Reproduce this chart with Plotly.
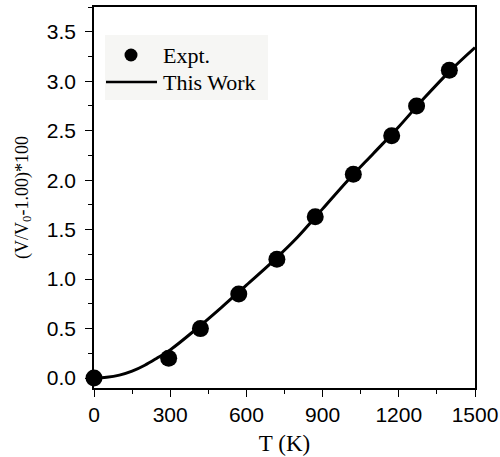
import plotly.graph_objects as go

# Measured thermal expansion
expt_T = [0, 294, 419, 570, 720, 871, 1021, 1172, 1270, 1399]
expt_dV = [0.0, 0.20, 0.50, 0.85, 1.20, 1.63, 2.06, 2.45, 2.75, 3.11]

# Calculated curve
calc_T = [0, 50, 100, 150, 200, 250, 300, 400, 500, 600, 700, 800,
          900, 1000, 1100, 1200, 1300, 1400, 1500]
calc_dV = [0.0, 0.008, 0.03, 0.07, 0.13, 0.205, 0.285, 0.49, 0.71, 0.94,
           1.17, 1.42, 1.71, 2.0, 2.27, 2.54, 2.83, 3.10, 3.34]

x_ticks = [0, 300, 600, 900, 1200, 1500]
y_ticks = [0.0, 0.5, 1.0, 1.5, 2.0, 2.5, 3.0, 3.5]

legend_labels = ["Expt.", "This Work"]

SERIF = "Liberation Serif, Times New Roman, serif"
SANS = "Liberation Sans, Arial, sans-serif"

fig = go.Figure()
fig.add_trace(go.Scatter(
    x=expt_T, y=expt_dV, mode="markers", name=legend_labels[0],
    marker=dict(symbol="circle", size=17, color="black"),
    cliponaxis=False, showlegend=False,
))
fig.add_trace(go.Scatter(
    x=calc_T, y=calc_dV, mode="lines", name=legend_labels[1],
    line=dict(color="black", width=3, shape="spline", smoothing=1.0),
    showlegend=False,
))

axis_common = dict(
    showline=True, linecolor="black", linewidth=1.5, mirror=True,
    ticks="outside", ticklen=7, tickwidth=1.2, tickcolor="black",
    showgrid=False, zeroline=False, automargin=False,
    tickfont=dict(family=SANS, size=21, color="black"),
)

fig.update_xaxes(
    range=[0, 1500], tickvals=x_ticks, ticktext=[str(v) for v in x_ticks],
    minor=dict(ticks="outside", ticklen=4, tickwidth=1.2, tickcolor="black", dtick=150),
    title=dict(text="T (K)", font=dict(family=SERIF, size=23, color="black"), standoff=10),
    **axis_common,
)
fig.update_yaxes(
    range=[-0.1, 3.75], tickvals=y_ticks, ticktext=[f"{v:.1f}" for v in y_ticks],
    minor=dict(ticks="outside", ticklen=4, tickwidth=1.2, tickcolor="black", dtick=0.25),
    ticklabelstandoff=5,
    title=dict(text="(V/V<sub>0</sub>-1.00)*100",
               font=dict(family=SERIF, size=18, color="black"), standoff=14),
    **axis_common,
)

# Plot-area geometry in pixels, used to place the legend box
L, R, T, B = 94, 475, 7, 388
W, H = R - L, B - T


def px(x):
    return (x - L) / W


def py(y):
    return (B - y) / H


shapes = [
    dict(type="rect", xref="paper", yref="paper",
         x0=px(105), x1=px(268), y0=py(100), y1=py(35),
         fillcolor="#f6f6f4", line=dict(width=0), layer="below"),
    dict(type="circle", xref="paper", yref="paper",
         x0=px(124.5), x1=px(137.5), y0=py(61.5), y1=py(48.5),
         fillcolor="black", line=dict(width=0)),
    dict(type="line", xref="paper", yref="paper",
         x0=px(106), x1=px(157), y0=py(82), y1=py(82),
         line=dict(color="black", width=2.6)),
]
annotations = [
    dict(text=legend_labels[0], xref="paper", yref="paper", x=px(161), y=py(55),
         xanchor="left", yanchor="middle", showarrow=False,
         font=dict(family=SERIF, size=22, color="black")),
    dict(text=legend_labels[1], xref="paper", yref="paper", x=px(161), y=py(82),
         xanchor="left", yanchor="middle", showarrow=False,
         font=dict(family=SERIF, size=22, color="black")),
]

fig.update_layout(
    width=500, height=457,
    margin=dict(l=L, r=500 - R, t=T, b=457 - B),
    plot_bgcolor="white", paper_bgcolor="white",
    shapes=shapes, annotations=annotations,
)

fig.write_html("out.html")
